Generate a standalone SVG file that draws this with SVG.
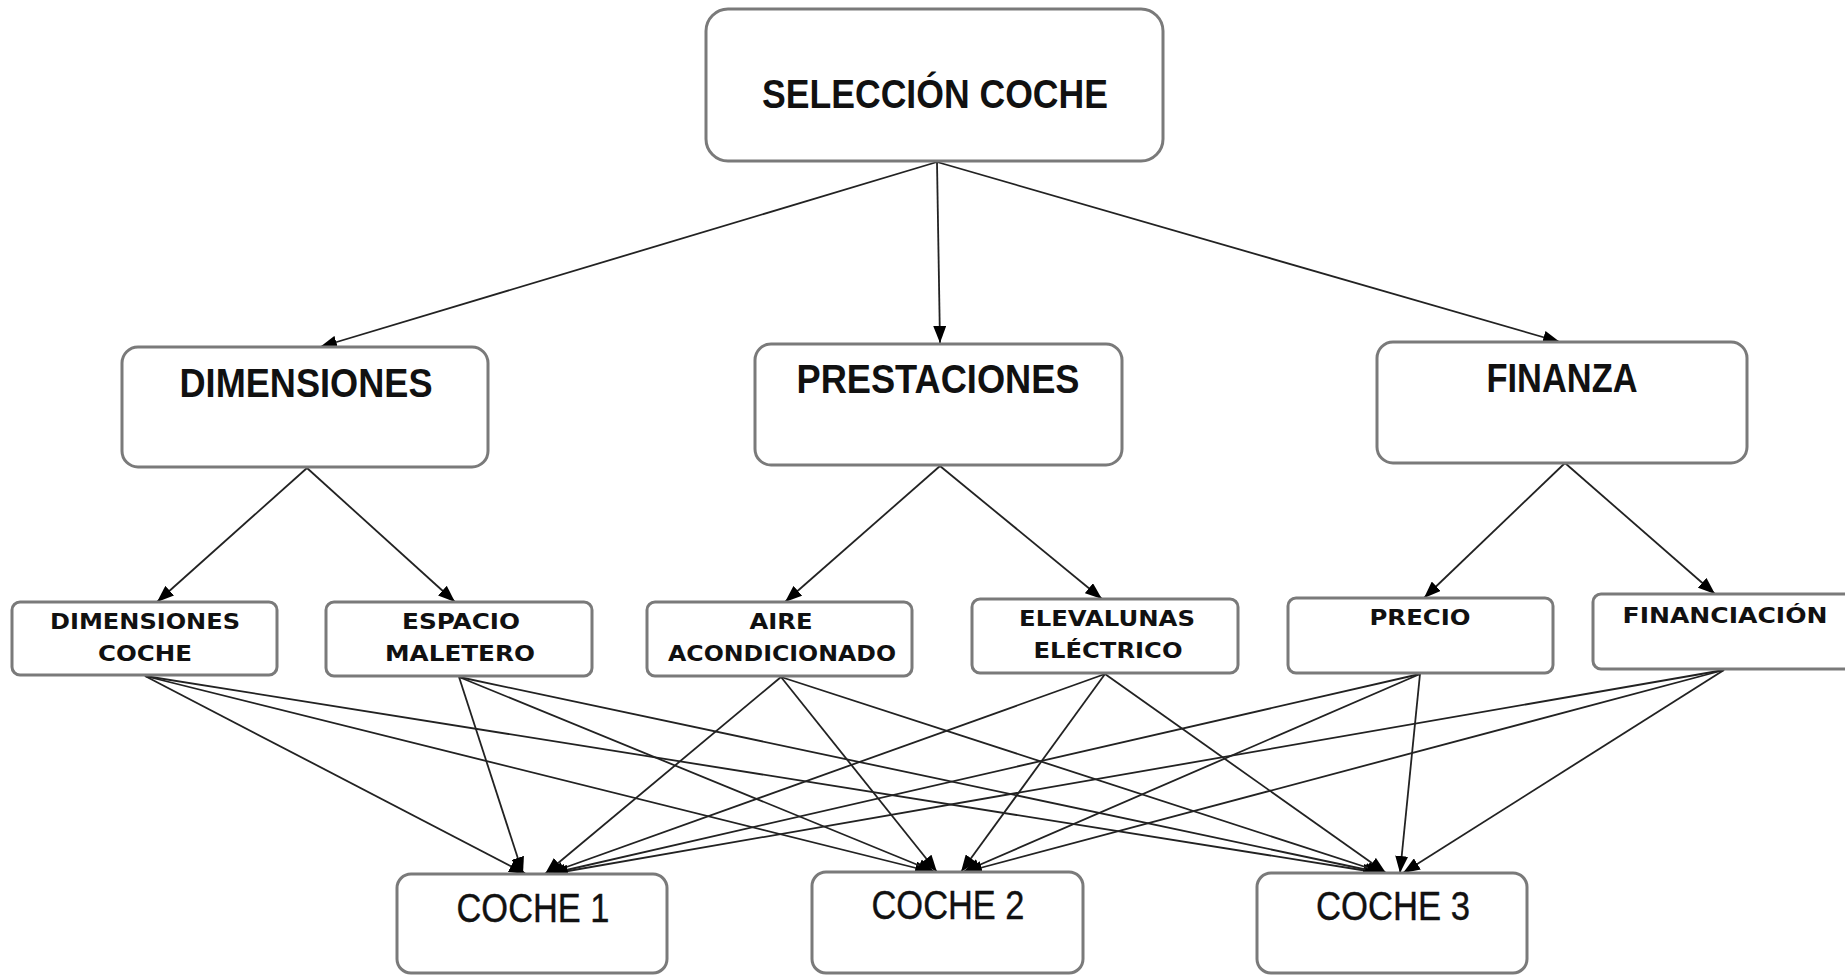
<svg xmlns="http://www.w3.org/2000/svg" width="1845" height="975" viewBox="0 0 1845 975">
<defs>
<style>
.box{fill:#fff;stroke:#7a7a7a;stroke-width:3}
.ln{stroke:#222;stroke-width:1.8;fill:none;marker-end:url(#ah)}
.big{font-family:"Liberation Sans",Arial,sans-serif;font-weight:bold;font-size:40px;fill:#111;text-anchor:middle}
.car{font-family:"Liberation Sans",Arial,sans-serif;font-weight:normal;font-size:40px;fill:#111;text-anchor:middle;stroke:#111;stroke-width:0.4}
.sm{font-family:"DejaVu Sans",Verdana,sans-serif;font-weight:bold;font-size:21px;fill:#111;text-anchor:middle}
</style>
<marker id="ah" viewBox="0 0 17 13" refX="17" refY="6.5" markerWidth="17" markerHeight="13" markerUnits="userSpaceOnUse" orient="auto">
<path d="M0,0 L17,6.5 L0,13 z" fill="#000"/>
</marker>
</defs>
<rect width="1845" height="975" fill="#fff"/>
<g id="connectors">
<line class="ln" x1="937" y1="162" x2="320" y2="347"/>
<line class="ln" x1="937" y1="162" x2="940" y2="343"/>
<line class="ln" x1="937" y1="162" x2="1560" y2="342"/>
<line class="ln" x1="307" y1="468" x2="157" y2="602"/>
<line class="ln" x1="307" y1="468" x2="455" y2="602"/>
<line class="ln" x1="940" y1="466" x2="785" y2="602"/>
<line class="ln" x1="940" y1="466" x2="1102" y2="599"/>
<line class="ln" x1="1565" y1="463" x2="1424" y2="598"/>
<line class="ln" x1="1565" y1="463" x2="1715" y2="594"/>
<line class="ln" x1="145" y1="676" x2="526" y2="874"/>
<line class="ln" x1="145" y1="676" x2="932" y2="872"/>
<line class="ln" x1="145" y1="676" x2="1380" y2="873"/>
<line class="ln" x1="459" y1="677" x2="523" y2="874"/>
<line class="ln" x1="459" y1="677" x2="935" y2="872"/>
<line class="ln" x1="459" y1="677" x2="1382" y2="873"/>
<line class="ln" x1="781" y1="677" x2="545" y2="874"/>
<line class="ln" x1="781" y1="677" x2="937" y2="872"/>
<line class="ln" x1="781" y1="677" x2="1384" y2="873"/>
<line class="ln" x1="1105" y1="674" x2="547" y2="874"/>
<line class="ln" x1="1105" y1="674" x2="961" y2="872"/>
<line class="ln" x1="1105" y1="674" x2="1386" y2="873"/>
<line class="ln" x1="1420" y1="674" x2="549" y2="874"/>
<line class="ln" x1="1420" y1="674" x2="963" y2="872"/>
<line class="ln" x1="1420" y1="674" x2="1400" y2="873"/>
<line class="ln" x1="1724" y1="670" x2="551" y2="874"/>
<line class="ln" x1="1724" y1="670" x2="965" y2="872"/>
<line class="ln" x1="1724" y1="670" x2="1403" y2="873"/>
</g>
<g id="seleccion">
<rect class="box" x="706" y="9" width="457" height="152" rx="22"/>
<text class="big" x="935" y="108" font-size="41" textLength="346" lengthAdjust="spacingAndGlyphs" style="font-weight:600">SELECCIÓN COCHE</text>
</g>
<g id="dimensiones">
<rect class="box" x="122" y="347" width="366" height="120" rx="16"/>
<text class="big" x="306" y="397" textLength="253" lengthAdjust="spacingAndGlyphs">DIMENSIONES</text>
</g>
<g id="prestaciones">
<rect class="box" x="755" y="344" width="367" height="121" rx="16"/>
<text class="big" x="938" y="393" textLength="283" lengthAdjust="spacingAndGlyphs">PRESTACIONES</text>
</g>
<g id="finanza">
<rect class="box" x="1377" y="342" width="370" height="121" rx="16"/>
<text class="big" x="1562" y="392" textLength="151" lengthAdjust="spacingAndGlyphs">FINANZA</text>
</g>
<g id="dimensiones-coche">
<rect class="box" x="12" y="602" width="265" height="73" rx="8"/>
<text class="sm" x="145" y="629" textLength="190" lengthAdjust="spacingAndGlyphs">DIMENSIONES</text>
<text class="sm" x="145" y="661" textLength="94" lengthAdjust="spacingAndGlyphs">COCHE</text>
</g>
<g id="espacio-maletero">
<rect class="box" x="326" y="602" width="266" height="74" rx="8"/>
<text class="sm" x="461" y="629" textLength="118" lengthAdjust="spacingAndGlyphs">ESPACIO</text>
<text class="sm" x="460" y="661" textLength="150" lengthAdjust="spacingAndGlyphs">MALETERO</text>
</g>
<g id="aire-acondicionado">
<rect class="box" x="647" y="602" width="265" height="74" rx="8"/>
<text class="sm" x="781" y="629" textLength="63" lengthAdjust="spacingAndGlyphs">AIRE</text>
<text class="sm" x="782" y="661" textLength="228" lengthAdjust="spacingAndGlyphs">ACONDICIONADO</text>
</g>
<g id="elevalunas">
<rect class="box" x="972" y="599" width="266" height="74" rx="8"/>
<text class="sm" x="1107" y="626" textLength="176" lengthAdjust="spacingAndGlyphs">ELEVALUNAS</text>
<text class="sm" x="1108" y="658" textLength="149" lengthAdjust="spacingAndGlyphs">ELÉCTRICO</text>
</g>
<g id="precio">
<rect class="box" x="1288" y="598" width="265" height="75" rx="8"/>
<text class="sm" x="1420" y="625" textLength="101" lengthAdjust="spacingAndGlyphs">PRECIO</text>
</g>
<g id="financiacion">
<rect class="box" x="1593" y="594" width="265" height="75" rx="8"/>
<text class="sm" x="1725" y="623" textLength="205" lengthAdjust="spacingAndGlyphs">FINANCIACIÓN</text>
</g>
<g id="coche1">
<rect class="box" x="397" y="874" width="270" height="99" rx="14"/>
<text class="car" x="533" y="922" textLength="153" lengthAdjust="spacingAndGlyphs">COCHE 1</text>
</g>
<g id="coche2">
<rect class="box" x="812" y="872" width="271" height="101" rx="14"/>
<text class="car" x="948" y="919" textLength="153" lengthAdjust="spacingAndGlyphs">COCHE 2</text>
</g>
<g id="coche3">
<rect class="box" x="1257" y="873" width="270" height="100" rx="14"/>
<text class="car" x="1393" y="920" textLength="154" lengthAdjust="spacingAndGlyphs">COCHE 3</text>
</g>
</svg>
